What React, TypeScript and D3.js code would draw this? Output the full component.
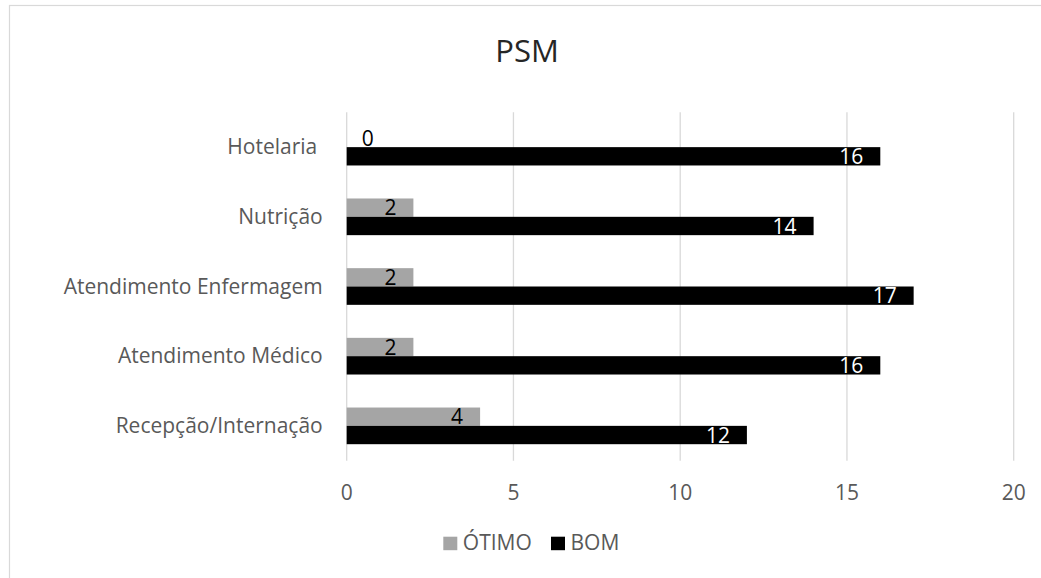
import React from "react";
import * as d3 from "d3";

const categories = ["Hotelaria ", "Nutrição", "Atendimento Enfermagem", "Atendimento Médico", "Recepção/Internação"];
const seriesNames = ["ÓTIMO", "BOM"];
const otimo = [0, 2, 2, 2, 4];
const bom = [16, 14, 17, 16, 12];
const xTicks = [0, 5, 10, 15, 20];
const colors = ["#a5a5a5", "#000000"];
const labelColors = ["#000000", "#ffffff"];

const W = 1041;
const H = 578;
const FONT = "'Open Sans', 'Noto Sans', sans-serif";

export default function App() {
  const x = d3.scaleLinear().domain([0, 20]).range([346.7, 1013.7]);
  const y = d3.scaleBand<string>().domain(categories).range([112.3, 460.7]).padding(0);
  const sub = d3.scaleBand<string>().domain(seriesNames).range([0, y.bandwidth()]).paddingInner(0).paddingOuter(0.9);
  const values = [otimo, bom];

  return (
    <div style={{ position: "absolute", left: 0, top: 0 }}>
      <svg width={W} height={H} style={{ display: "block", fontFamily: FONT }}>
        <rect x={0} y={0} width={W} height={H} fill="#fff" />
        <rect x={9.5} y={5.5} width={W + 20} height={H + 20} fill="none" stroke="#d9d9d9" strokeWidth={1.2} />
        <text x={527} y={62} textAnchor="middle" fontSize={31} fill="#262626">PSM</text>
        {xTicks.map((t) => (
          <line key={"g" + t} x1={x(t)} x2={x(t)} y1={112.3} y2={460.7} stroke="#d9d9d9" strokeWidth={1.3} />
        ))}
        {xTicks.map((t) => (
          <text key={"t" + t} x={x(t)} y={500} textAnchor="middle" fontSize={21} fill="#595959">{t}</text>
        ))}
        {categories.map((c) => (
          <text key={"c" + c} x={322.7} y={(y(c) as number) + y.bandwidth() / 2 + 7} textAnchor="end" fontSize={21} fill="#595959" style={{ whiteSpace: "pre" }}>{c}</text>
        ))}
        {seriesNames.map((s, si) =>
          categories.map((c, ci) => {
            const v = values[si][ci];
            const y0 = (y(c) as number) + (sub(s) as number);
            const h = sub.bandwidth();
            return (
              <g key={s + c}>
                <rect x={x(0)} y={y0} width={x(v) - x(0)} height={h} fill={colors[si]} />
                <text
                  x={v === 0 ? x(0) + 27 : x(v) - 17}
                  y={y0 + h - 1.5}
                  textAnchor="end"
                  fontSize={21}
                  fill={v === 0 ? "#000" : labelColors[si]}
                >
                  {v}
                </text>
              </g>
            );
          })
        )}
        {seriesNames.map((s, si) => {
          const lx = [443.3, 551][si];
          return (
            <g key={"l" + s}>
              <rect x={lx} y={536.7} width={14} height={13.5} fill={colors[si]} />
              <text x={lx + 19.5} y={550} fontSize={21} fill="#595959">{s}</text>
            </g>
          );
        })}
      </svg>
    </div>
  );
}
